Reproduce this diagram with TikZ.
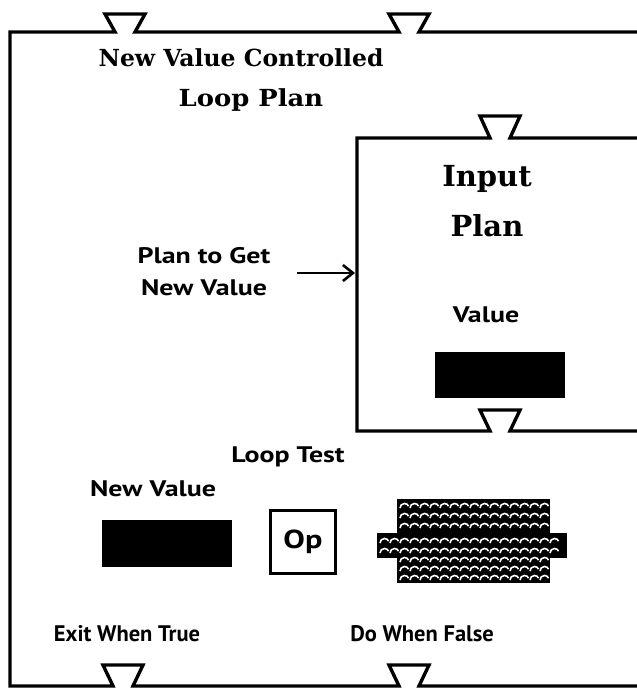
\documentclass[tikz,border=0pt]{standalone}
\usepackage{fontspec}
\newfontfamily\titlefont{DejaVu Serif}
\newfontfamily\widetitlefont[FakeStretch=1.1]{DejaVu Serif}
\newfontfamily\slotfont{PT Sans}
\newfontfamily\wideslotfont[FakeStretch=1.24]{PT Sans}
\usetikzlibrary{arrows.meta}

\tikzset{
  plan/.style={line width=3.4pt, line join=miter},
  plantitle/.style={font=\titlefont\bfseries\fontsize{23.5}{26}\selectfont, inner sep=0pt},
  bigtitle/.style={font=\titlefont\bfseries\fontsize{29}{30}\selectfont, inner sep=0pt},
  slotlabel/.style={font=\slotfont\bfseries\fontsize{22.5}{28}\selectfont, inner sep=0pt, align=center},
  wideslot/.style={font=\wideslotfont\bfseries\fontsize{22.5}{32}\selectfont, inner sep=0pt, align=center},
  solidbox/.style={fill=black, inner sep=0pt},
  hatch/.style={white, line width=1.6pt},
}

\begin{document}
\begin{tikzpicture}[x=1pt,y=-1pt]
\useasboundingbox (0,0) rectangle (637,688);

% outer plan with its ports
\draw[plan] (640,32) -- (419,32) -- (429,14) -- (389,14) -- (399,32) -- (135,32)
  -- (145,14) -- (105,14) -- (115,32) -- (10,32) -- (10,686) -- (113,686)
  -- (103,665) -- (143,665) -- (133,686) -- (399,686) -- (389,665) -- (429,665)
  -- (419,686) -- (640,686);

% input plan
\draw[plan] (640,138) -- (510,138) -- (520,116) -- (480,116) -- (490,138) -- (357,138)
  -- (357,431) -- (490,431) -- (480,410) -- (520,410) -- (510,431) -- (640,431);

\node[plantitle] (title1) at (241,58) {New Value Controlled};
\node[plantitle, font=\widetitlefont\bfseries\fontsize{23.5}{26}\selectfont] (title2) at (251,100) {Loop Plan};
\node[bigtitle] (input1) at (487,179) {Input};
\node[bigtitle] (input2) at (487,226) {Plan};

\node[wideslot] (value) at (486,315) {Value};
\node[solidbox, minimum width=130pt, minimum height=46pt] (valuebox) at (500,375) {};

\node[wideslot] (getval) at (204,272) {Plan to Get\\New Value};
\coordinate (arrowtail) at (297,273);
\coordinate (inwest) at (355,273);
\draw[line width=2.6pt, -{Straight Barb[length=10pt,width=16pt,line width=2.6pt]}] (arrowtail) -- (inwest);

\node[wideslot] (looptest) at (288,457) {Loop Test};
\node[wideslot] (newval) at (153,489) {New Value};
\node[solidbox, minimum width=130pt, minimum height=47pt] (newvalbox) at (167,543) {};
\node[draw, line width=2.6pt, minimum width=65pt, minimum height=63pt, inner sep=0pt,
  font=\wideslotfont\bfseries\fontsize{26}{28}\selectfont] (op) at (303,542) {Op};

% test result
\node[solidbox, minimum width=153pt, minimum height=84pt] (testbody) at (473,541) {};
\node[solidbox, minimum width=190pt, minimum height=25pt] (testbar) at (472,545) {};
\foreach \y in {508,518,528,562,571,580}
  \draw[hatch] foreach \x in {400,410,...,540} {(\x,\y) arc[start angle=180,end angle=335,radius=4.5]};
\foreach \y in {543,553}
  \draw[hatch] foreach \x in {380,390,...,555} {(\x,\y) arc[start angle=180,end angle=335,radius=4.5]};

\node[slotlabel] (exittrue) at (127,634) {Exit When True};
\node[slotlabel] (dofalse) at (422,634) {Do When False};
\end{tikzpicture}
\end{document}
